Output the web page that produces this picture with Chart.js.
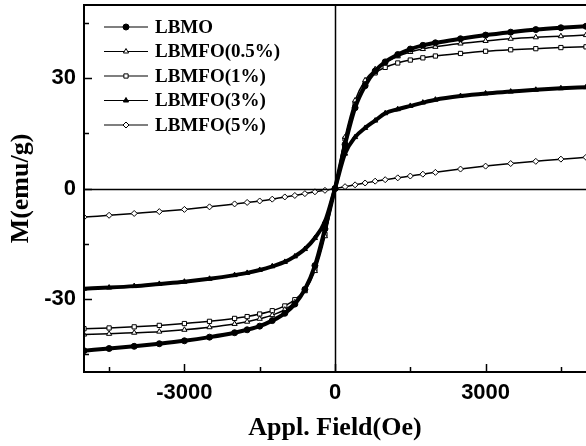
<!DOCTYPE html>
<html lang="en">
<head>
  <meta charset="UTF-8">
  <title>M-H curves</title>
  <script src="https://cdn.jsdelivr.net/npm/chart.js"></script>
  <style>
    body { margin: 0; background: #fff; }
    #wrap { width: 586px; height: 446px; }
  </style>
</head>
<body>
  <div id="wrap"><canvas id="mh" width="586" height="446"></canvas></div>
  <script>
    // applied field (Oe) and magnetisation (emu/g)
    const field = [-5000, -4500, -4000, -3500, -3000, -2500, -2000, -1750, -1500, -1250, -1000, -800, -600, -400, -200, 0,
                   200, 400, 600, 800, 1000, 1250, 1500, 1750, 2000, 2500, 3000, 3500, 4000, 4500, 5000];
    const lbmo = [-44.2, -43.6, -43.0, -42.3, -41.5, -40.5, -39.3, -38.5, -37.5, -36.0, -34.0, -31.5, -27.5, -21.0, -11.0, 0,
                  12.0, 22.0, 28.0, 32.0, 34.5, 36.5, 38.0, 39.0, 39.7, 40.8, 41.8, 42.6, 43.3, 43.8, 44.2];
    const lbmfo05 = [-39.8, -39.6, -39.3, -39.0, -38.5, -37.8, -36.9, -36.3, -35.5, -34.5, -33.0, -31.0, -28.0, -22.5, -13.0, 0,
                     14.0, 24.0, 29.5, 32.5, 34.3, 36.0, 37.2, 38.0, 38.6, 39.5, 40.2, 40.8, 41.2, 41.5, 41.8];
    const lbmfo1 = [-38.2, -38.0, -37.7, -37.3, -36.8, -36.2, -35.4, -34.9, -34.2, -33.3, -32.0, -30.3, -27.5, -22.0, -12.5, 0,
                    13.5, 23.0, 28.5, 31.5, 33.0, 34.2, 35.0, 35.6, 36.1, 36.8, 37.4, 37.8, 38.1, 38.4, 38.6];
    const lbmfo3 = [-27.3, -27.0, -26.6, -26.0, -25.4, -24.6, -23.6, -23.0, -22.2, -21.2, -20.0, -18.5, -16.5, -13.5, -9.0, 0,
                    9.5, 14.0, 16.5, 18.5, 20.5, 21.6, 22.5, 23.4, 24.2, 25.2, 25.9, 26.4, 26.9, 27.3, 27.6];
    const lbmfo5 = [-7.8, -7.3, -6.8, -6.3, -5.7, -5.0, -4.2, -3.8, -3.4, -2.9, -2.3, -1.9, -1.4, -0.9, -0.5, 0,
                    0.5, 1.0, 1.5, 2.0, 2.4, 2.9, 3.4, 3.9, 4.4, 5.3, 6.1, 6.8, 7.4, 8.0, 8.5];

    const seriesNames = ['LBMO', 'LBMFO(0.5%)', 'LBMFO(1%)', 'LBMFO(3%)', 'LBMFO(5%)'];
    const xMajor = [-3000, 0, 3000];
    const xMinor = [-4500, -1500, 1500, 4500];
    const yMajor = [-30, 0, 30];
    const yMinor = [-45, -15, 15, 45];

    const serif = "'Liberation Serif', 'Times New Roman', serif";
    const sans = "'Liberation Sans', Arial, sans-serif";

    function toPoints(ys) {
      return field.map((x, i) => ({ x: x, y: ys[i] }));
    }

    function makeSet(label, ys, style, hollow, width) {
      return {
        label: label,
        data: toPoints(ys),
        borderColor: '#000',
        borderWidth: width,
        pointStyle: style,
        pointRadius: 3,
        pointBorderWidth: 1,
        pointBorderColor: '#000',
        pointBackgroundColor: hollow ? '#fff' : '#000',
        cubicInterpolationMode: 'monotone',
        fill: false
      };
    }

    // frame, zero lines and inward ticks
    const framePlugin = {
      id: 'frame',
      afterDatasetsDraw(chart) {
        const { ctx, chartArea: a, scales: { x, y } } = chart;
        ctx.save();
        ctx.strokeStyle = '#000';
        ctx.lineWidth = 2;
        ctx.beginPath();
        ctx.moveTo(a.right, a.top);
        ctx.lineTo(a.left, a.top);
        ctx.lineTo(a.left, a.bottom);
        ctx.lineTo(a.right, a.bottom);
        ctx.stroke();

        ctx.lineWidth = 1.5;
        ctx.beginPath();
        const x0 = Math.round(x.getPixelForValue(0)) + 0.5;
        const y0 = Math.round(y.getPixelForValue(0)) + 0.5;
        ctx.moveTo(x0, a.top);
        ctx.lineTo(x0, a.bottom);
        ctx.moveTo(a.left, y0);
        ctx.lineTo(a.right, y0);
        ctx.stroke();

        ctx.lineWidth = 1.5;
        ctx.beginPath();
        xMajor.concat(xMinor).forEach(v => {
          const px = Math.round(x.getPixelForValue(v)) + 0.5;
          const len = xMajor.includes(v) ? 8 : 5;
          ctx.moveTo(px, a.bottom);
          ctx.lineTo(px, a.bottom - len);
        });
        yMajor.concat(yMinor).forEach(v => {
          const py = Math.round(y.getPixelForValue(v)) + 0.5;
          const len = yMajor.includes(v) ? 8 : 5;
          ctx.moveTo(a.left, py);
          ctx.lineTo(a.left + len, py);
        });
        ctx.stroke();
        ctx.restore();
      }
    };

    // legend in the upper left corner, line + marker + name
    const legendPlugin = {
      id: 'innerLegend',
      afterDraw(chart) {
        const { ctx } = chart;
        ctx.save();
        chart.data.datasets.forEach((ds, i) => {
          const cy = 27 + i * 24.5;
          ctx.strokeStyle = '#000';
          ctx.lineWidth = 1.2;
          ctx.beginPath();
          ctx.moveTo(104, cy);
          ctx.lineTo(148, cy);
          ctx.stroke();
          ctx.fillStyle = ds.pointBackgroundColor;
          ctx.strokeStyle = '#000';
          ctx.lineWidth = 1;
          Chart.helpers.drawPoint(ctx, { pointStyle: ds.pointStyle, radius: 3, rotation: 0, borderWidth: 1 }, 126, cy);
          ctx.fillStyle = '#000';
          ctx.font = 'bold 19px ' + serif;
          ctx.textAlign = 'left';
          ctx.textBaseline = 'middle';
          ctx.fillText(seriesNames[i], 155, cy + 1);
        });
        ctx.restore();
      }
    };

    new Chart(document.getElementById('mh'), {
      type: 'line',
      data: {
        datasets: [
          makeSet(seriesNames[0], lbmo, 'circle', false, 4),
          makeSet(seriesNames[1], lbmfo05, 'triangle', true, 1.5),
          makeSet(seriesNames[2], lbmfo1, 'rect', true, 1.5),
          makeSet(seriesNames[3], lbmfo3, 'triangle', false, 4),
          makeSet(seriesNames[4], lbmfo5, 'rectRot', true, 1.5)
        ]
      },
      options: {
        responsive: false,
        animation: false,
        layout: { autoPadding: false, padding: { top: 5, right: 0, left: 0, bottom: 0 } },
        plugins: {
          legend: { display: false },
          tooltip: { enabled: false }
        },
        scales: {
          x: {
            type: 'linear',
            min: -5000,
            max: 5000,
            afterBuildTicks: s => { s.ticks = xMajor.map(v => ({ value: v })); },
            afterFit: s => { s.height = 74; s.paddingLeft = 0; s.paddingRight = 0; },
            grid: { display: false, drawTicks: false },
            border: { display: false },
            ticks: {
              color: '#000',
              padding: 8,
              callback: v => String(v),
              font: { family: sans, size: 22, weight: 'bold' }
            },
            title: {
              display: true,
              text: 'Appl. Field(Oe)',
              color: '#000',
              padding: { top: 0, bottom: 2 },
              font: { family: serif, size: 26, weight: 'bold' }
            }
          },
          y: {
            type: 'linear',
            min: -50,
            max: 50,
            afterBuildTicks: s => { s.ticks = yMajor.map(v => ({ value: v })); },
            afterFit: s => { s.width = 84; s.paddingTop = 0; s.paddingBottom = 0; },
            grid: { display: false, drawTicks: false },
            border: { display: false },
            ticks: {
              color: '#000',
              padding: 8,
              callback: v => String(v),
              font: { family: sans, size: 22, weight: 'bold' }
            },
            title: {
              display: true,
              text: 'M(emu/g)',
              color: '#000',
              padding: { top: 6, bottom: 0 },
              font: { family: serif, size: 26, weight: 'bold' }
            }
          }
        }
      },
      plugins: [framePlugin, legendPlugin]
    });
  </script>
</body>
</html>
